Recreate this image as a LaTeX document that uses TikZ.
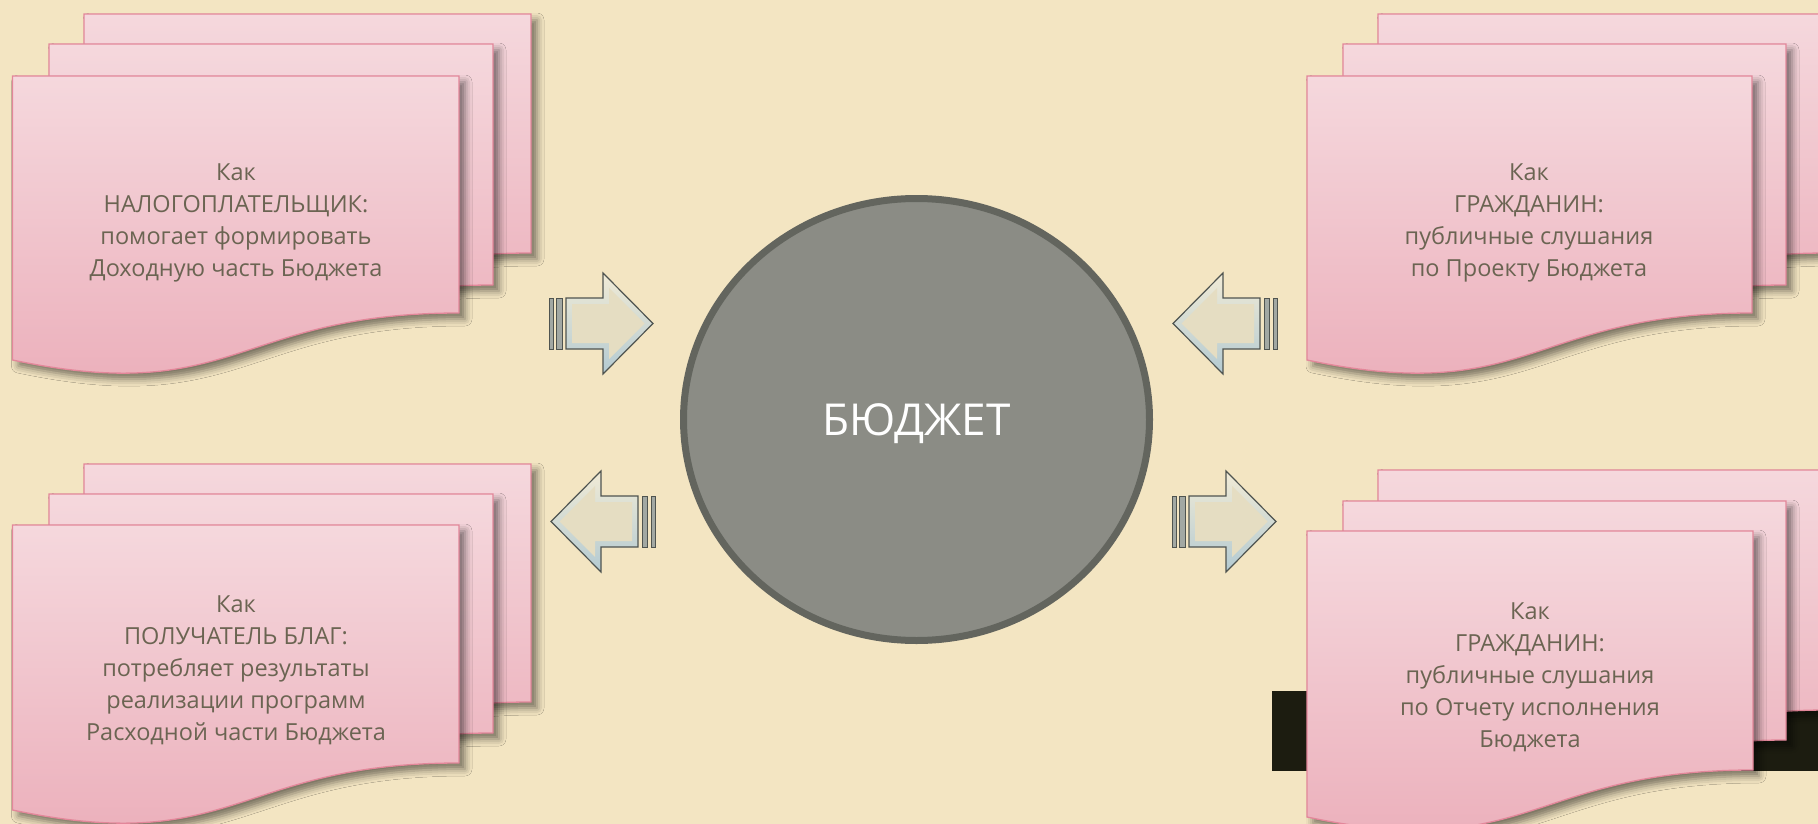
\documentclass[tikz,border=0pt]{standalone}
\usepackage{fontspec}
\setmainfont{Open Sans}
\usetikzlibrary{shapes.geometric,shadows.blur}
\definecolor{bgcol}{HTML}{F3E5C2}
\definecolor{sheettop}{HTML}{F5D8DD}
\definecolor{sheetbot}{HTML}{EBADB9}
\definecolor{sheetborder}{HTML}{E3879A}
\definecolor{txtcol}{HTML}{6B6452}
\definecolor{circfill}{HTML}{8B8C85}
\definecolor{circborder}{HTML}{63655E}
\definecolor{arrline}{HTML}{4F5450}
\definecolor{arrtop}{HTML}{F1EBD6}
\definecolor{arrbot}{HTML}{B3CAD2}
\definecolor{arrflat}{HTML}{E5DDC2}
\definecolor{barfill}{HTML}{A2A8A3}
\definecolor{darkband}{HTML}{1C1C10}
\tikzset{
  sheet/.style={draw=sheetborder, line width=1.3pt, top color=sheettop, bottom color=sheetbot,
    blur shadow={shadow xshift=6pt, shadow yshift=-6pt, shadow blur radius=7pt, shadow opacity=50}},
  txt/.style={text=txtcol, align=center, font=\fontsize{23.5}{32}\selectfont, inner sep=0pt},
  arrowouter/.style={draw=arrline, line width=1.2pt, top color=arrtop, bottom color=arrbot},
  arrowinner/.style={fill=arrflat},
  arrbar/.style={draw=arrline, line width=1pt, fill=barfill},
}
% x, y (top), width, right height, left height
\newcommand{\docsheet}[5]{%
  \path[sheet] (#1,#2) -- ({#1+#3},#2) -- ({#1+#3},{#2+#4})
    .. controls ({#1+#3/2},{#2+#4}) and ({#1+#3/2},{#2+#4+2*(#5-#4)}) .. (#1,{#2+#5}) -- cycle;}
% shaft start x, direction (+1 right / -1 left), centre y
\newcommand{\blockarrow}[3]{%
  \begin{scope}[shift={(#1,#3)}, xscale=#2]
    \path[arrowouter] (0,-25.5) -- (37,-25.5) -- (37,-50.5) -- (87,0) -- (37,50.5) -- (37,25.5) -- (0,25.5) -- cycle;
    \fill[arrowinner] (6,-19.5) -- (43,-19.5) -- (43,-35.5) -- (78.5,0) -- (43,35.5) -- (43,19.5) -- (6,19.5) -- cycle;
    \path[arrbar] (-9.5,-25.5) rectangle (-4,25.5);
    \path[arrbar] (-17,-25.5) rectangle (-13,25.5);
  \end{scope}}
\begin{document}
\begin{tikzpicture}[x=1pt, y=-1pt]
\fill[bgcol] (0,0) rectangle (1818,824);
\useasboundingbox (0,0) rectangle (1818,824);
% dark band bottom right
\fill[darkband] (1272,691) rectangle (1830,771);
% top-left group
\docsheet{84}{14}{447}{239}{286}
\docsheet{49}{44}{444}{241}{288}
\docsheet{12.5}{76}{446.5}{237}{284}
% bottom-left group
\docsheet{84}{464}{447}{238}{285}
\docsheet{49}{494}{444}{239}{286}
\docsheet{12.5}{525}{446.5}{238}{285}
% top-right group
\docsheet{1378}{14}{450}{239}{286}
\docsheet{1343}{44}{443}{241}{288}
\docsheet{1307}{76}{445}{237}{284}
% bottom-right group
\docsheet{1378}{470}{450}{240}{287}
\docsheet{1343}{501}{443}{239}{286}
\docsheet{1307}{531}{446}{239}{286}
% texts
\node[txt] (tl) at (236,223) {Как\\НАЛОГОПЛАТЕЛЬЩИК:\\помогает формировать\\Доходную часть Бюджета};
\node[txt] (bl) at (236,670) {Как\\ПОЛУЧАТЕЛЬ БЛАГ:\\потребляет результаты\\реализации программ\\Расходной части Бюджета};
\node[txt] (tr) at (1529,223) {Как\\ГРАЖДАНИН:\\публичные слушания\\по Проекту Бюджета};
\node[txt] (br) at (1530,677) {Как\\ГРАЖДАНИН:\\публичные слушания\\по Отчету исполнения\\Бюджета};
% arrows
\blockarrow{566}{1}{323.5}
\blockarrow{1260}{-1}{323.5}
\blockarrow{638}{-1}{521.5}
\blockarrow{1189}{1}{521.5}
% centre
\node[ellipse, draw=circborder, line width=7pt, fill=circfill, inner sep=0pt,
  minimum width=466pt, minimum height=442pt, text=white,
  font=\fontsize{44}{50}\selectfont, text depth=0pt] (budget) at (916.5,419.5) {БЮДЖЕТ};
\end{tikzpicture}
\end{document}
